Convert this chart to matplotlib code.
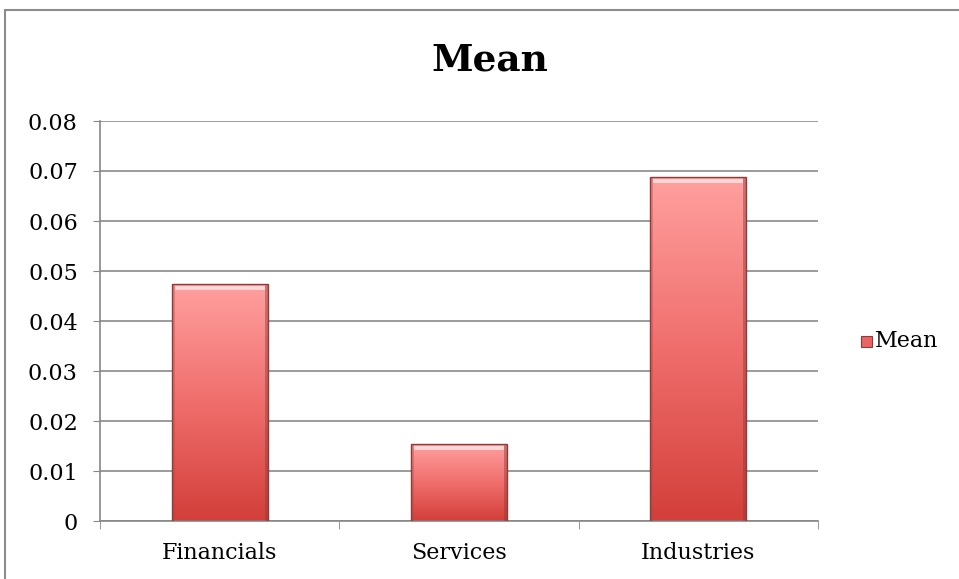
import numpy as np
import matplotlib.pyplot as plt
from matplotlib.colors import LinearSegmentedColormap
from matplotlib.patches import Rectangle

categories = ["Financials", "Services", "Industries"]
means = [0.0474, 0.0154, 0.0688]
y_ticks = [0, 0.01, 0.02, 0.03, 0.04, 0.05, 0.06, 0.07, 0.08]
y_labels = ["0", "0.01", "0.02", "0.03", "0.04", "0.05", "0.06", "0.07", "0.08"]

plt.rcParams['font.family'] = ['DejaVu Serif']

fig = plt.figure(figsize=(9.59, 5.79), dpi=100)
ax = fig.add_axes([100 / 959, 58 / 579, 718 / 959, 400 / 579])

# outer chart border
fig.patches.append(Rectangle((5 / 959, -0.1), 1.2, 1 - 10 / 579 + 0.1,
                             transform=fig.transFigure, fill=False,
                             edgecolor='#8c8c8c', linewidth=1.5))

grad = LinearSegmentedColormap.from_list('bar', ['#d33f3a', '#ef6e6c', '#ffa09f'])
x = np.arange(len(categories))
width = 0.4
bars = ax.bar(x, means, width=width, color='none', edgecolor='#8e3b39',
              linewidth=1.0, zorder=4)
img = np.linspace(0, 1, 256).reshape(-1, 1)
for b in bars:
    x0, h = b.get_x(), b.get_height()
    im = ax.imshow(img, cmap=grad, origin='lower', aspect='auto',
                   extent=[x0, x0 + width, 0, h], zorder=2)
    im.set_clip_path(b)
    # bevel: darker sides, light strip on top
    ax.add_patch(Rectangle((x0, 0), 0.012, h, facecolor='#b84442',
                           edgecolor='none', alpha=0.35, zorder=3))
    ax.add_patch(Rectangle((x0 + width - 0.012, 0), 0.012, h, facecolor='#8e3b39',
                           edgecolor='none', alpha=0.45, zorder=3))
    ax.add_patch(Rectangle((x0 + 0.012, h - 0.0011), width - 0.024, 0.0007,
                           facecolor='#ffd6d5', edgecolor='none', zorder=3))

ax.set_xlim(-0.5, 2.5)
ax.set_ylim(0, 0.08)
ax.set_yticks(y_ticks)
ax.set_yticklabels(y_labels, fontsize=16)
ax.set_xticks(x)
ax.set_xticklabels(categories, fontsize=16)
ax.set_xticks([-0.5, 0.5, 1.5, 2.5], minor=True)
ax.tick_params(axis='x', which='major', length=0, pad=15)
ax.tick_params(axis='x', which='minor', length=6, color='#878787', direction='out')
ax.tick_params(axis='y', length=5, color='#878787', direction='out', pad=11)

ax.grid(axis='y', color='#8a8a8a', linewidth=1.2, zorder=0)
ax.set_axisbelow(True)
for s in ['top', 'right']:
    ax.spines[s].set_visible(False)
for s in ['left', 'bottom']:
    ax.spines[s].set_color('#878787')
    ax.spines[s].set_linewidth(1.2)

fig.text(490 / 959, 1 - 60 / 579, "Mean", fontsize=27, fontweight='bold',
         ha='center', va='center')

# legend
fig.patches.append(Rectangle((861 / 959, 1 - 347 / 579), 11 / 959, 11 / 579,
                             transform=fig.transFigure, facecolor='#e86563',
                             edgecolor='#8e3b39', linewidth=0.8))
fig.text(875 / 959, 1 - 341 / 579, "Mean", fontsize=16, va='center')

fig.savefig("out.png", dpi=100)
